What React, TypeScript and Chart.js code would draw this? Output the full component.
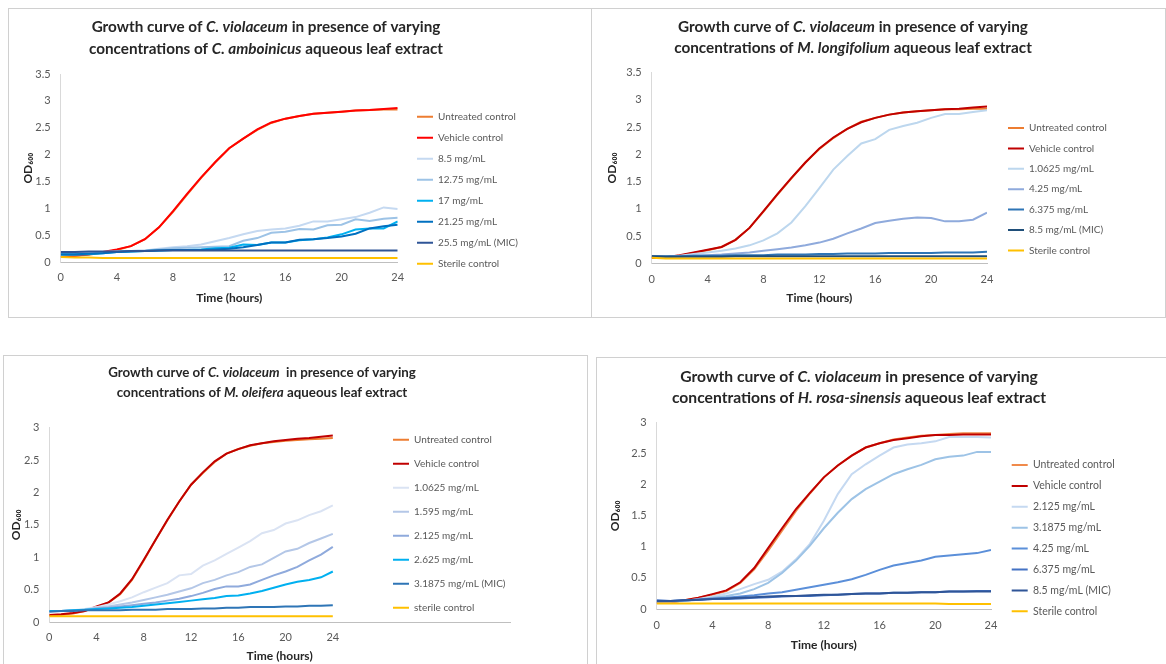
import React, { useEffect, useRef } from 'react';
import { Chart, registerables } from 'chart.js';

Chart.register(...registerables);

const FONT = 'Lato, "Open Sans", sans-serif';

// ---------- shared ----------
const hours = [0, 1, 2, 3, 4, 5, 6, 7, 8, 9, 10, 11, 12, 13, 14, 15, 16, 17, 18, 19, 20, 21, 22, 23, 24];

// ---------- Panel A: C. amboinicus ----------
const caLabels = ['Untreated control', 'Vehicle control', '8.5 mg/mL', '12.75 mg/mL', '17 mg/mL', '21.25 mg/mL', '25.5 mg/mL (MIC)', 'Sterile control'];
const caUntreated = [0.10, 0.12, 0.14, 0.18, 0.23, 0.30, 0.43, 0.65, 0.94, 1.26, 1.57, 1.86, 2.12, 2.30, 2.46, 2.59, 2.67, 2.72, 2.76, 2.78, 2.80, 2.82, 2.83, 2.84, 2.84];
const caVehicle = [0.11, 0.12, 0.15, 0.19, 0.24, 0.30, 0.43, 0.65, 0.95, 1.27, 1.58, 1.86, 2.12, 2.30, 2.47, 2.60, 2.67, 2.72, 2.76, 2.78, 2.80, 2.82, 2.83, 2.85, 2.87];
const ca8_5 = [0.17, 0.17, 0.18, 0.19, 0.20, 0.21, 0.22, 0.25, 0.28, 0.30, 0.33, 0.39, 0.45, 0.52, 0.58, 0.61, 0.63, 0.68, 0.76, 0.76, 0.80, 0.84, 0.92, 1.02, 0.99];
const ca12_75 = [0.17, 0.17, 0.18, 0.19, 0.20, 0.21, 0.22, 0.24, 0.26, 0.27, 0.28, 0.29, 0.30, 0.40, 0.45, 0.55, 0.57, 0.62, 0.61, 0.69, 0.70, 0.80, 0.77, 0.81, 0.83];
const ca17 = [0.14, 0.14, 0.15, 0.17, 0.19, 0.20, 0.21, 0.22, 0.23, 0.23, 0.24, 0.26, 0.27, 0.33, 0.32, 0.37, 0.37, 0.41, 0.43, 0.46, 0.52, 0.61, 0.63, 0.63, 0.76];
const ca21_25 = [0.15, 0.15, 0.16, 0.17, 0.19, 0.20, 0.21, 0.22, 0.23, 0.23, 0.23, 0.24, 0.25, 0.28, 0.32, 0.37, 0.37, 0.42, 0.43, 0.45, 0.48, 0.53, 0.63, 0.67, 0.70];
const ca25_5 = [0.19, 0.19, 0.20, 0.20, 0.20, 0.21, 0.21, 0.22, 0.22, 0.22, 0.22, 0.22, 0.22, 0.22, 0.22, 0.22, 0.22, 0.22, 0.22, 0.22, 0.22, 0.22, 0.22, 0.22, 0.22];
const caSterile = [0.10, 0.09, 0.09, 0.08, 0.08, 0.08, 0.08, 0.08, 0.08, 0.08, 0.08, 0.08, 0.08, 0.08, 0.08, 0.08, 0.08, 0.08, 0.08, 0.08, 0.08, 0.08, 0.08, 0.08, 0.08];
const caColors = ['#ED7D31', '#FF0000', '#C5D9F1', '#9DC3E6', '#00B0F0', '#0070C0', '#2F5597', '#FFC000'];

// ---------- Panel B: M. longifolium ----------
const mlLabels = ['Untreated control', 'Vehicle control', '1.0625 mg/mL', '4.25 mg/mL', '6.375 mg/mL', '8.5 mg/mL (MIC)', 'Sterile control'];
const mlUntreated = [0.10, 0.11, 0.14, 0.19, 0.24, 0.30, 0.43, 0.65, 0.95, 1.26, 1.56, 1.85, 2.10, 2.30, 2.47, 2.60, 2.67, 2.73, 2.77, 2.79, 2.81, 2.83, 2.83, 2.84, 2.84];
const mlVehicle = [0.10, 0.11, 0.15, 0.20, 0.25, 0.30, 0.43, 0.65, 0.96, 1.27, 1.57, 1.85, 2.11, 2.31, 2.47, 2.59, 2.67, 2.73, 2.77, 2.79, 2.81, 2.83, 2.84, 2.86, 2.88];
const ml1_0625 = [0.12, 0.12, 0.14, 0.17, 0.20, 0.23, 0.27, 0.33, 0.42, 0.55, 0.75, 1.05, 1.38, 1.72, 1.97, 2.20, 2.28, 2.45, 2.52, 2.58, 2.67, 2.74, 2.74, 2.78, 2.81];
const ml4_25 = [0.12, 0.12, 0.13, 0.14, 0.15, 0.16, 0.18, 0.20, 0.23, 0.26, 0.29, 0.33, 0.38, 0.45, 0.55, 0.64, 0.74, 0.78, 0.82, 0.84, 0.83, 0.77, 0.77, 0.80, 0.93];
const ml6_375 = [0.13, 0.13, 0.13, 0.14, 0.14, 0.14, 0.15, 0.15, 0.15, 0.16, 0.16, 0.16, 0.17, 0.17, 0.18, 0.18, 0.18, 0.19, 0.19, 0.19, 0.19, 0.20, 0.20, 0.20, 0.21];
const ml8_5 = [0.13, 0.12, 0.12, 0.12, 0.12, 0.12, 0.13, 0.13, 0.13, 0.13, 0.13, 0.13, 0.13, 0.13, 0.13, 0.13, 0.13, 0.13, 0.13, 0.13, 0.13, 0.13, 0.13, 0.13, 0.13];
const mlSterile = [0.10, 0.09, 0.09, 0.09, 0.09, 0.09, 0.09, 0.09, 0.09, 0.09, 0.09, 0.09, 0.09, 0.09, 0.09, 0.09, 0.09, 0.09, 0.09, 0.09, 0.09, 0.09, 0.09, 0.09, 0.09];
const mlColors = ['#ED7D31', '#C00000', '#BDD7EE', '#8FAADC', '#2E75B6', '#1F4E79', '#FFC000'];

// ---------- Panel C: M. oleifera ----------
const moLabels = ['Untreated control', 'Vehicle control', '1.0625 mg/mL', '1.595 mg/mL', '2.125 mg/mL', '2.625 mg/mL', '3.1875 mg/mL (MIC)', 'sterile control'];
const moUntreated = [0.10, 0.11, 0.13, 0.17, 0.23, 0.30, 0.43, 0.65, 0.95, 1.27, 1.57, 1.86, 2.12, 2.30, 2.47, 2.60, 2.67, 2.72, 2.76, 2.78, 2.80, 2.81, 2.82, 2.83, 2.84];
const moVehicle = [0.11, 0.12, 0.14, 0.17, 0.24, 0.30, 0.44, 0.66, 0.96, 1.27, 1.58, 1.86, 2.12, 2.31, 2.48, 2.60, 2.67, 2.73, 2.76, 2.79, 2.81, 2.83, 2.84, 2.86, 2.88];
const mo1_0625 = [0.17, 0.17, 0.18, 0.20, 0.23, 0.27, 0.32, 0.38, 0.46, 0.53, 0.60, 0.72, 0.74, 0.87, 0.95, 1.05, 1.15, 1.25, 1.37, 1.42, 1.52, 1.57, 1.65, 1.71, 1.80];
const mo1_595 = [0.17, 0.17, 0.18, 0.19, 0.22, 0.24, 0.27, 0.30, 0.34, 0.38, 0.42, 0.47, 0.52, 0.60, 0.65, 0.72, 0.77, 0.85, 0.89, 0.99, 1.09, 1.13, 1.22, 1.29, 1.36];
const mo2_125 = [0.17, 0.17, 0.18, 0.19, 0.21, 0.22, 0.24, 0.26, 0.28, 0.30, 0.33, 0.36, 0.40, 0.45, 0.51, 0.55, 0.55, 0.58, 0.65, 0.72, 0.78, 0.85, 0.95, 1.04, 1.16];
const mo2_625 = [0.17, 0.17, 0.18, 0.19, 0.20, 0.21, 0.22, 0.23, 0.25, 0.27, 0.29, 0.31, 0.33, 0.35, 0.37, 0.40, 0.41, 0.44, 0.48, 0.53, 0.58, 0.62, 0.65, 0.69, 0.78];
const mo3_1875 = [0.16, 0.17, 0.17, 0.18, 0.18, 0.18, 0.18, 0.19, 0.19, 0.19, 0.20, 0.20, 0.20, 0.21, 0.21, 0.22, 0.22, 0.23, 0.23, 0.23, 0.24, 0.24, 0.25, 0.25, 0.26];
const moSterile = [0.09, 0.09, 0.09, 0.09, 0.09, 0.09, 0.09, 0.09, 0.09, 0.09, 0.09, 0.09, 0.09, 0.09, 0.09, 0.09, 0.09, 0.09, 0.09, 0.09, 0.09, 0.09, 0.09, 0.09, 0.09];
const moColors = ['#ED7D31', '#C00000', '#DAE3F3', '#B4C7E7', '#8FAADC', '#00B0F0', '#2E75B6', '#FFC000'];

// ---------- Panel D: H. rosa-sinensis ----------
const hrLabels = ['Untreated control', 'Vehicle control', '2.125 mg/mL', '3.1875 mg/mL', '4.25 mg/mL', '6.375 mg/mL', '8.5 mg/mL (MIC)', 'Sterile control'];
const hrUntreated = [0.10, 0.11, 0.14, 0.18, 0.23, 0.29, 0.42, 0.64, 0.94, 1.26, 1.58, 1.86, 2.12, 2.31, 2.47, 2.60, 2.67, 2.73, 2.76, 2.79, 2.80, 2.82, 2.83, 2.83, 2.83];
const hrVehicle = [0.10, 0.11, 0.14, 0.18, 0.24, 0.30, 0.43, 0.66, 0.98, 1.30, 1.61, 1.87, 2.12, 2.31, 2.47, 2.60, 2.67, 2.72, 2.75, 2.78, 2.80, 2.80, 2.81, 2.81, 2.81];
const hr2_125 = [0.12, 0.12, 0.13, 0.16, 0.20, 0.25, 0.32, 0.40, 0.47, 0.60, 0.80, 1.05, 1.42, 1.85, 2.17, 2.33, 2.47, 2.60, 2.65, 2.67, 2.70, 2.77, 2.77, 2.77, 2.76];
const hr3_1875 = [0.12, 0.12, 0.13, 0.15, 0.18, 0.21, 0.25, 0.32, 0.42, 0.58, 0.78, 1.02, 1.30, 1.55, 1.77, 1.93, 2.05, 2.17, 2.25, 2.32, 2.41, 2.45, 2.47, 2.53, 2.53];
const hr4_25 = [0.12, 0.13, 0.14, 0.15, 0.17, 0.18, 0.20, 0.22, 0.25, 0.27, 0.31, 0.35, 0.39, 0.43, 0.48, 0.55, 0.63, 0.70, 0.74, 0.78, 0.84, 0.86, 0.88, 0.90, 0.95];
const hr6_375 = [0.14, 0.13, 0.14, 0.15, 0.16, 0.16, 0.17, 0.18, 0.19, 0.20, 0.21, 0.21, 0.22, 0.23, 0.24, 0.25, 0.25, 0.26, 0.26, 0.27, 0.27, 0.28, 0.28, 0.29, 0.29];
const hr8_5 = [0.13, 0.13, 0.14, 0.15, 0.16, 0.17, 0.18, 0.19, 0.20, 0.21, 0.21, 0.22, 0.23, 0.23, 0.24, 0.25, 0.25, 0.26, 0.26, 0.27, 0.27, 0.28, 0.28, 0.28, 0.28];
const hrSterile = [0.09, 0.09, 0.09, 0.09, 0.09, 0.09, 0.09, 0.09, 0.09, 0.09, 0.09, 0.09, 0.09, 0.09, 0.09, 0.09, 0.09, 0.09, 0.09, 0.09, 0.09, 0.08, 0.08, 0.08, 0.08];
const hrColors = ['#F08A4B', '#C00000', '#C5D9F1', '#9DC3E6', '#5B8FD9', '#4472C4', '#2F5597', '#FFC000'];

type Seg = { t: string; i?: boolean };

type PanelSpec = {
  box: { left: number; top: number; width: number; height: number; borders: [number, number, number, number] };
  title: Seg[][];
  titleCx: number;
  titleYs: number[];
  titleW: number;
  labels: string[];
  series: number[][];
  colors: string[];
  yMax: number;
  xMax: number;
  pad: { left: number; right: number; top: number; bottom: number };
  yW: number;
  xH: number;
  xTickPad: number;
  legendLeft: number;
  legendTop: number;
  legendPad: number;
  legendFont: number;
};

const specs: PanelSpec[] = [
  {
    box: { left: 8, top: 8, width: 584, height: 310, borders: [1, 1, 1, 1] },
    title: [
      [{ t: 'Growth curve of ' }, { t: 'C. violaceum', i: true }, { t: ' in presence of varying' }],
      [{ t: 'concentrations of ' }, { t: 'C. amboinicus', i: true }, { t: ' aqueous leaf extract' }],
    ],
    titleCx: 258, titleYs: [19, 41], titleW: 349,
    labels: caLabels,
    series: [caUntreated, caVehicle, ca8_5, ca12_75, ca17, ca21_25, ca25_5, caSterile],
    colors: caColors, yMax: 3.5, xMax: 24,
    pad: { left: 12.8, right: 194.3, top: 66, bottom: 12.8 }, yW: 39.9, xH: 42.9, xTickPad: 9,
    legendLeft: 398, legendTop: 92.7, legendPad: 11, legendFont: 10,
  },
  {
    box: { left: 592, top: 8, width: 574, height: 310, borders: [1, 1, 1, 0] },
    title: [
      [{ t: 'Growth curve of ' }, { t: 'C. violaceum', i: true }, { t: ' in presence of varying' }],
      [{ t: 'concentrations of ' }, { t: 'M. longifolium', i: true }, { t: ' aqueous leaf extract' }],
    ],
    titleCx: 261, titleYs: [19, 40], titleW: 350,
    labels: mlLabels,
    series: [mlUntreated, mlVehicle, ml1_0625, ml4_25, ml6_375, ml8_5, mlSterile],
    colors: mlColors, yMax: 3.5, xMax: 24,
    pad: { left: 12.5, right: 179, top: 64.7, bottom: 13.1 }, yW: 47.2, xH: 41.6, xTickPad: 10,
    legendLeft: 405.6, legendTop: 104.6, legendPad: 10.4, legendFont: 10,
  },
  {
    box: { left: 3, top: 355, width: 585, height: 309, borders: [1, 1, 0, 1] },
    title: [
      [{ t: 'Growth curve of ' }, { t: 'C. violaceum', i: true }, { t: '  in presence of varying' }],
      [{ t: 'concentrations of ' }, { t: 'M. oleifera', i: true }, { t: ' aqueous leaf extract' }],
    ],
    titleCx: 259, titleYs: [18, 38], titleW: 308,
    labels: moLabels,
    series: [moUntreated, moVehicle, mo1_0625, mo1_595, mo2_125, mo2_625, mo3_1875, moSterile],
    colors: moColors, yMax: 3, xMax: 39,
    pad: { left: 5.8, right: 78, top: 72.7, bottom: 1.1 }, yW: 40.5, xH: 40.9, xTickPad: 8.7,
    legendLeft: 376, legendTop: 65.7, legendPad: 14, legendFont: 10,
  },
  {
    box: { left: 596, top: 357, width: 570, height: 307, borders: [1, 0, 0, 1] },
    title: [
      [{ t: 'Growth curve of ' }, { t: 'C. violaceum', i: true }, { t: ' in presence of varying' }],
      [{ t: 'concentrations of ' }, { t: 'H. rosa-sinensis', i: true }, { t: ' aqueous leaf extract' }],
    ],
    titleCx: 263, titleYs: [20, 41], titleW: 358,
    labels: hrLabels,
    series: [hrUntreated, hrVehicle, hr2_125, hr3_1875, hr4_25, hr6_375, hr8_5, hrSterile],
    colors: hrColors, yMax: 3, xMax: 24,
    pad: { left: 11.8, right: 175, top: 65.7, bottom: 11.8 }, yW: 48.9, xH: 43.2, xTickPad: 10,
    legendLeft: 405.3, legendTop: 92.35, legendPad: 10.4, legendFont: 10.5,
  },
];

function richTitlePlugin(spec: PanelSpec) {
  return {
    id: 'richTitle',
    afterDraw(chart: any) {
      const ctx: CanvasRenderingContext2D = chart.ctx;
      ctx.save();
      const fontFor = (s: Seg, size: number) => `${s.i ? 'italic ' : ''}bold ${size}px ${FONT}`;
      const measure = (line: Seg[], size: number) =>
        line.reduce((w, s) => {
          ctx.font = fontFor(s, size);
          return w + ctx.measureText(s.t).width;
        }, 0);
      const base = 16;
      const size = (base * spec.titleW) / measure(spec.title[0], base);
      ctx.fillStyle = '#262626';
      ctx.textBaseline = 'middle';
      ctx.textAlign = 'left';
      spec.title.forEach((line, li) => {
        const w = measure(line, size);
        let x = spec.titleCx - w / 2;
        line.forEach((s) => {
          ctx.font = fontFor(s, size);
          ctx.fillText(s.t, x, spec.titleYs[li]);
          x += ctx.measureText(s.t).width;
        });
      });
      ctx.restore();
    },
  };
}

function legendPlacerPlugin(spec: PanelSpec) {
  return {
    id: 'legendPlacer',
    afterLayout(chart: any) {
      const lg = chart.legend;
      if (!lg) return;
      lg.update(chart.width, chart.height, { left: 0, top: 0, right: 0, bottom: 0 });
      lg.left = spec.legendLeft;
      lg.top = spec.legendTop;
      lg.right = spec.legendLeft + lg.width;
      lg.bottom = spec.legendTop + lg.height;
    },
  };
}

function buildConfig(spec: PanelSpec): any {
  const n = spec.series.length;
  const datasets = spec.series.map((vals, i) => ({
    label: spec.labels[i],
    data: vals.map((v, k) => ({ x: hours[k], y: v })),
    borderColor: spec.colors[i],
    backgroundColor: spec.colors[i],
    pointBorderColor: spec.colors[i],
    pointBackgroundColor: spec.colors[i],
    borderWidth: 2,
    pointBorderWidth: 2,
    pointRadius: 0,
    pointHoverRadius: 0,
    tension: 0,
    fill: false,
    order: n - i,
  }));
  return {
    type: 'line',
    data: { datasets },
    options: {
      animation: false,
      responsive: false,
      maintainAspectRatio: false,
      events: [],
      layout: { padding: spec.pad },
      plugins: {
        tooltip: { enabled: false },
        title: { display: false },
        legend: {
          display: true,
          position: 'chartArea',
          align: 'start',
          labels: {
            usePointStyle: true,
            pointStyle: 'line',
            pointStyleWidth: 16,
            padding: spec.legendPad,
            color: '#595959',
            font: { family: FONT, size: spec.legendFont },
            sort: (a: any, b: any) => a.datasetIndex - b.datasetIndex,
          },
        },
      },
      scales: {
        x: {
          type: 'linear',
          min: 0,
          max: spec.xMax,
          afterFit: (s: any) => {
            s.height = spec.xH;
          },
          ticks: {
            stepSize: 4,
            autoSkip: false,
            maxRotation: 0,
            padding: spec.xTickPad,
            color: '#595959',
            font: { family: FONT, size: 11 },
            callback: (v: any) => (v <= 24 ? String(v) : null),
          },
          grid: { display: false, drawTicks: false },
          border: { display: true, color: '#BFBFBF', width: 1 },
          title: {
            display: true,
            text: 'Time (hours)',
            color: '#262626',
            padding: 0,
            font: { family: FONT, size: 12, weight: 'bold' },
          },
        },
        y: {
          type: 'linear',
          min: 0,
          max: spec.yMax,
          afterFit: (s: any) => {
            s.width = spec.yW;
          },
          ticks: {
            stepSize: 0.5,
            padding: 10,
            color: '#595959',
            font: { family: FONT, size: 11 },
            callback: (v: any) => String(Math.round(Number(v) * 100) / 100),
          },
          grid: { display: false, drawTicks: false },
          border: { display: true, color: '#D9D9D9', width: 1 },
          title: {
            display: true,
            text: 'OD₆₀₀',
            color: '#262626',
            padding: 0,
            font: { family: FONT, size: 12, weight: 'bold' },
          },
        },
      },
    },
    plugins: [richTitlePlugin(spec), legendPlacerPlugin(spec)],
  };
}

function Panel({ spec }: { spec: PanelSpec }) {
  const ref = useRef<HTMLCanvasElement>(null);
  useEffect(() => {
    if (!ref.current) return;
    const chart = new Chart(ref.current, buildConfig(spec));
    return () => chart.destroy();
  }, [spec]);
  const { left, top, width, height, borders } = spec.box;
  return (
    <>
      <div
        style={{
          position: 'absolute',
          left,
          top,
          width,
          height,
          boxSizing: 'border-box',
          borderStyle: 'solid',
          borderColor: '#D0D0D0',
          borderTopWidth: borders[0],
          borderRightWidth: borders[1],
          borderBottomWidth: borders[2],
          borderLeftWidth: borders[3],
          background: '#FFFFFF',
        }}
      />
      <canvas
        ref={ref}
        width={width}
        height={height}
        style={{ position: 'absolute', left, top, width, height, display: 'block' }}
      />
    </>
  );
}

export default function App() {
  return (
    <div>
      {specs.map((s, i) => (
        <Panel key={i} spec={s} />
      ))}
    </div>
  );
}
